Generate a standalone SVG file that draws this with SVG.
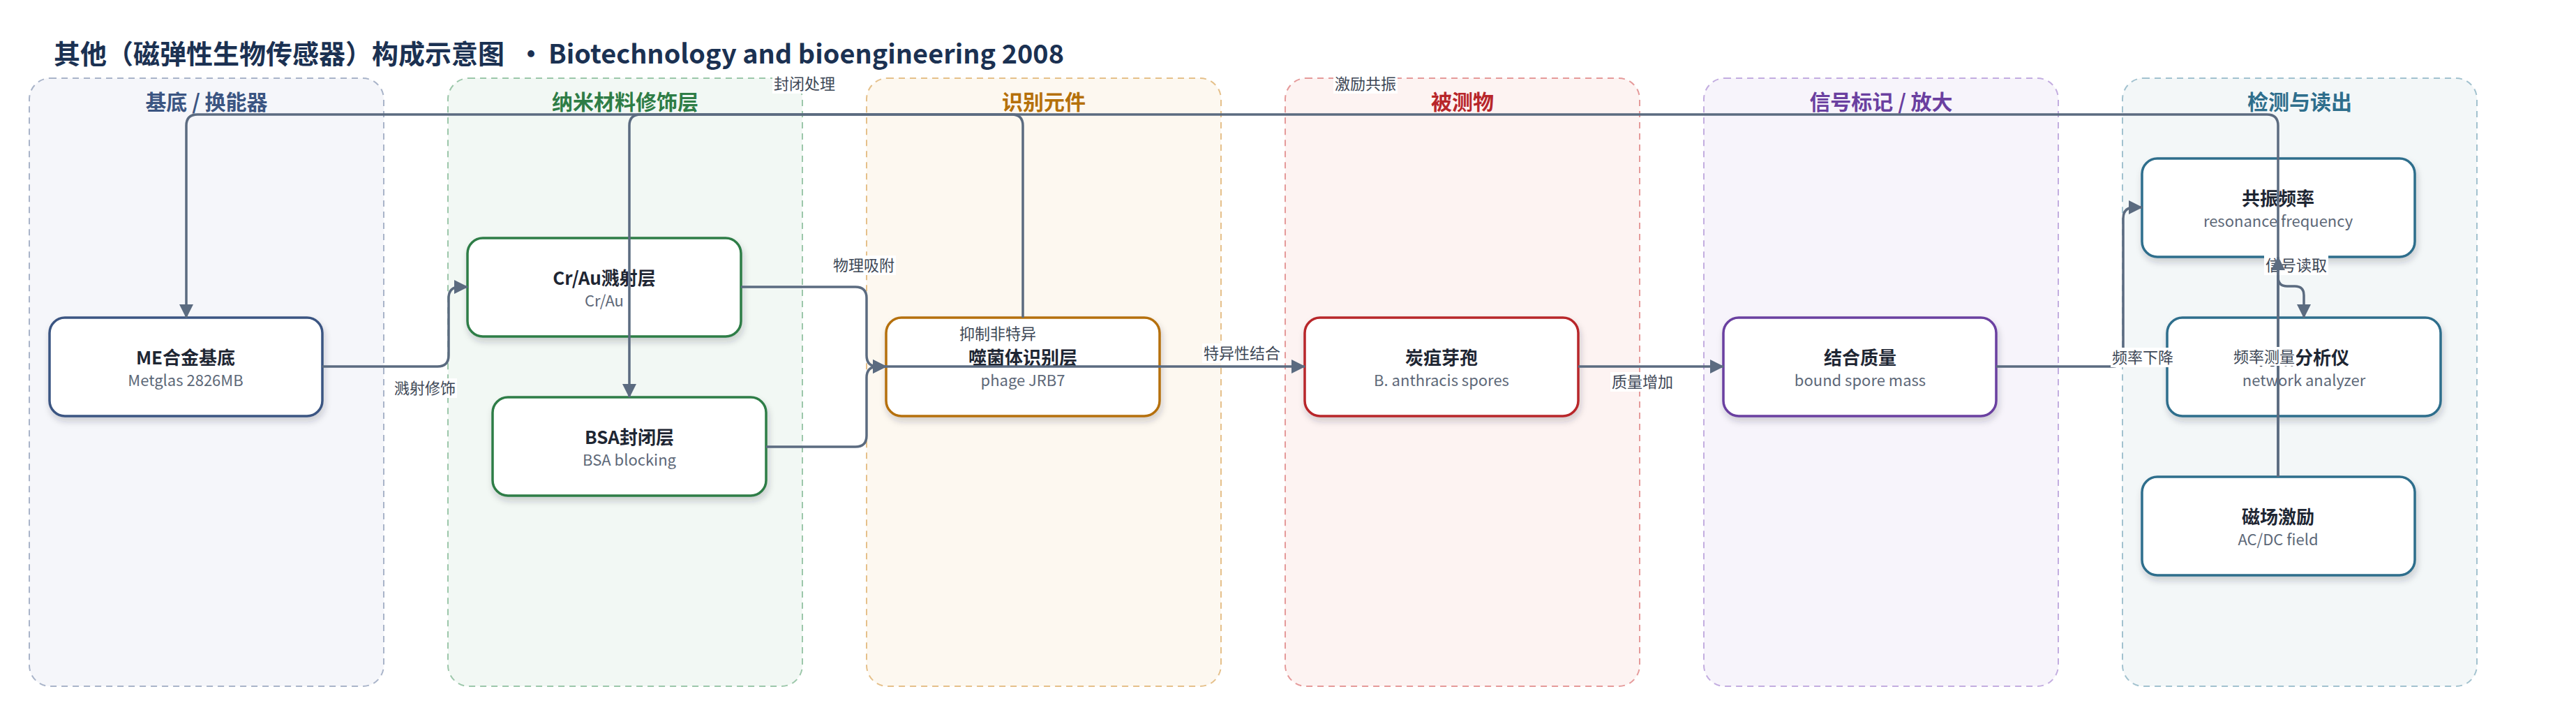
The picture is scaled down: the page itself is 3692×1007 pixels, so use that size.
<svg xmlns="http://www.w3.org/2000/svg" width="3692" height="1007" viewBox="0 0 3692 1007">
<defs>
<style>
text{font-family:"Noto Sans CJK SC","Noto Sans","Liberation Sans",sans-serif}
.title{font-size:38px;font-weight:700;fill:#1b3152}
.lane{stroke-width:2;stroke-dasharray:9 7}
.lh{font-size:30px;font-weight:700;text-anchor:middle}
.node{fill:#fff;stroke-width:3.5;filter:url(#sh)}
.nt{font-size:26px;font-weight:700;fill:#1e2633;text-anchor:middle}
.ns{font-size:22px;fill:#5d6878;text-anchor:middle}
.edge{fill:none;stroke:#5b6b80;stroke-width:3.5;stroke-linejoin:round}
.arr{marker-end:url(#ah)}
.lb{fill:#fff}
.lt{font-size:22px;fill:#3d4756;text-anchor:middle}
</style>
<filter id="sh" x="-10%" y="-10%" width="125%" height="135%">
<feDropShadow dx="2" dy="6" stdDeviation="5" flood-color="#1e2a3a" flood-opacity="0.2"/>
</filter>
<marker id="ah" markerUnits="userSpaceOnUse" markerWidth="20" markerHeight="20" refX="19" refY="10" orient="auto">
<path d="M0,0 L20,10 L0,20 z" fill="#5b6b80"/>
</marker>
</defs>
<rect width="3692" height="1007" fill="#fff"/>
<text class="title" x="77" y="91">其他（磁弹性生物传感器）构成示意图<tspan x="742">•</tspan><tspan x="786" textLength="739" lengthAdjust="spacingAndGlyphs">Biotechnology and bioengineering 2008</tspan></text>

<g id="lanes">
<g id="lane1"><rect class="lane" x="42" y="112" width="508" height="871" rx="30" fill="#f5f6fa" stroke="#a9b4c9"/><text class="lh" x="296" y="157" fill="#3b5582">基底 / 换能器</text></g>
<g id="lane2"><rect class="lane" x="642" y="112" width="508" height="871" rx="30" fill="#f2f8f4" stroke="#9cc7aa"/><text class="lh" x="896" y="157" fill="#2e7d46">纳米材料修饰层</text></g>
<g id="lane3"><rect class="lane" x="1242" y="112" width="508" height="871" rx="30" fill="#fdf8f0" stroke="#e5c08a"/><text class="lh" x="1496" y="157" fill="#b5700a">识别元件</text></g>
<g id="lane4"><rect class="lane" x="1842" y="112" width="508" height="871" rx="30" fill="#fdf3f2" stroke="#e59a9a"/><text class="lh" x="2096" y="157" fill="#b8262a">被测物</text></g>
<g id="lane5"><rect class="lane" x="2442" y="112" width="508" height="871" rx="30" fill="#f7f4fb" stroke="#c3ade0"/><text class="lh" x="2696" y="157" fill="#6a3fa0">信号标记 / 放大</text></g>
<g id="lane6"><rect class="lane" x="3042" y="112" width="508" height="871" rx="30" fill="#f3f7f8" stroke="#a2c2cf"/><text class="lh" x="3296" y="157" fill="#2e6e8c">检测与读出</text></g>
</g>

<g id="nodes">
<g id="n_me"><rect class="node" x="71" y="455" width="391" height="141" rx="22" stroke="#3b5582"/><text class="nt" x="266" y="522">ME合金基底</text><text class="ns" x="266" y="553">Metglas 2826MB</text></g>
<g id="n_crau"><rect class="node" x="670" y="341" width="392" height="141" rx="22" stroke="#2e7d46"/><text class="nt" x="866" y="408">Cr/Au溅射层</text><text class="ns" x="866" y="439">Cr/Au</text></g>
<g id="n_bsa"><rect class="node" x="706" y="569" width="392" height="141" rx="22" stroke="#2e7d46"/><text class="nt" x="902" y="636">BSA封闭层</text><text class="ns" x="902" y="667">BSA blocking</text></g>
<g id="n_phage"><rect class="node" x="1270" y="455" width="392" height="141" rx="22" stroke="#b5700a"/><text class="nt" x="1466" y="522">噬菌体识别层</text><text class="ns" x="1466" y="553">phage JRB7</text></g>
<g id="n_spore"><rect class="node" x="1870" y="455" width="392" height="141" rx="22" stroke="#b8262a"/><text class="nt" x="2066" y="522">炭疽芽孢</text><text class="ns" x="2066" y="553">B. anthracis spores</text></g>
<g id="n_mass"><rect class="node" x="2470" y="455" width="391" height="141" rx="22" stroke="#6a3fa0"/><text class="nt" x="2666" y="522">结合质量</text><text class="ns" x="2666" y="553">bound spore mass</text></g>
<g id="n_res"><rect class="node" x="3070" y="227" width="391" height="141" rx="22" stroke="#2e6e8c"/><text class="nt" x="3265" y="294">共振频率</text><text class="ns" x="3265" y="325">resonance frequency</text></g>
<g id="n_na"><rect class="node" x="3106" y="455" width="392" height="141" rx="22" stroke="#2e6e8c"/><text class="nt" x="3302" y="522">网络分析仪</text><text class="ns" x="3302" y="553">network analyzer</text></g>
<g id="n_field"><rect class="node" x="3070" y="683" width="391" height="141" rx="22" stroke="#2e6e8c"/><text class="nt" x="3265" y="750">磁场激励</text><text class="ns" x="3265" y="781">AC/DC field</text></g>
</g>

<g id="connectors">
<g><path class="edge arr" d="M462 525 H627 Q643 525 643 509 V427 Q643 411 659 411 H670"/><rect class="lb" x="563" y="542" width="92" height="28"/><text class="lt" x="609" y="564">溅射修饰</text></g>
<g><path class="edge arr" d="M1062 411 H1226 Q1242 411 1242 427 V509 Q1242 525 1258 525 H1270"/><rect class="lb" x="1192" y="366" width="92" height="28"/><text class="lt" x="1238" y="388">物理吸附</text></g>
<g><path class="edge arr" d="M1098 640 H1226 Q1242 640 1242 624 V541 Q1242 525 1258 525 H1270"/><rect class="lb" x="1373" y="464" width="114" height="28"/><text class="lt" x="1430" y="486">抑制非特异</text></g>
<g><path class="edge arr" d="M1466 455 V180 Q1466 164 1450 164 H918 Q902 164 902 180 V569"/><rect class="lb" x="1107" y="106" width="92" height="28"/><text class="lt" x="1153" y="128">封闭处理</text></g>
<g><path class="edge arr" d="M1258 525 H1870"/><rect class="lb" x="1723" y="492" width="114" height="28"/><text class="lt" x="1780" y="514">特异性结合</text></g>
<g><path class="edge arr" d="M2262 525 H2470"/><rect class="lb" x="2308" y="533" width="92" height="28"/><text class="lt" x="2354" y="555">质量增加</text></g>
<g><path class="edge arr" d="M2861 525 H3027 Q3043 525 3043 509 V313 Q3043 297 3059 297 H3070"/><rect class="lb" x="3025" y="498" width="92" height="28"/><text class="lt" x="3071" y="520">频率下降</text></g>
<g><path class="edge arr" d="M3265 368 V397 Q3265 410 3278 410 H3289 Q3302 410 3302 423 V455"/><rect class="lb" x="3245" y="366" width="92" height="28"/><text class="lt" x="3291" y="388">信号读取</text></g>
<g><path class="edge arr" d="M3265 683 V180 Q3265 164 3249 164 H283 Q267 164 267 180 V455"/><rect class="lb" x="1911" y="106" width="92" height="28"/><text class="lt" x="1957" y="128">激励共振</text></g>
<g><path class="edge arr" d="M3265 683 V368"/><rect class="lb" x="3199" y="497" width="92" height="27"/><text class="lt" x="3245" y="519">频率测量</text></g>
</g>
</svg>
